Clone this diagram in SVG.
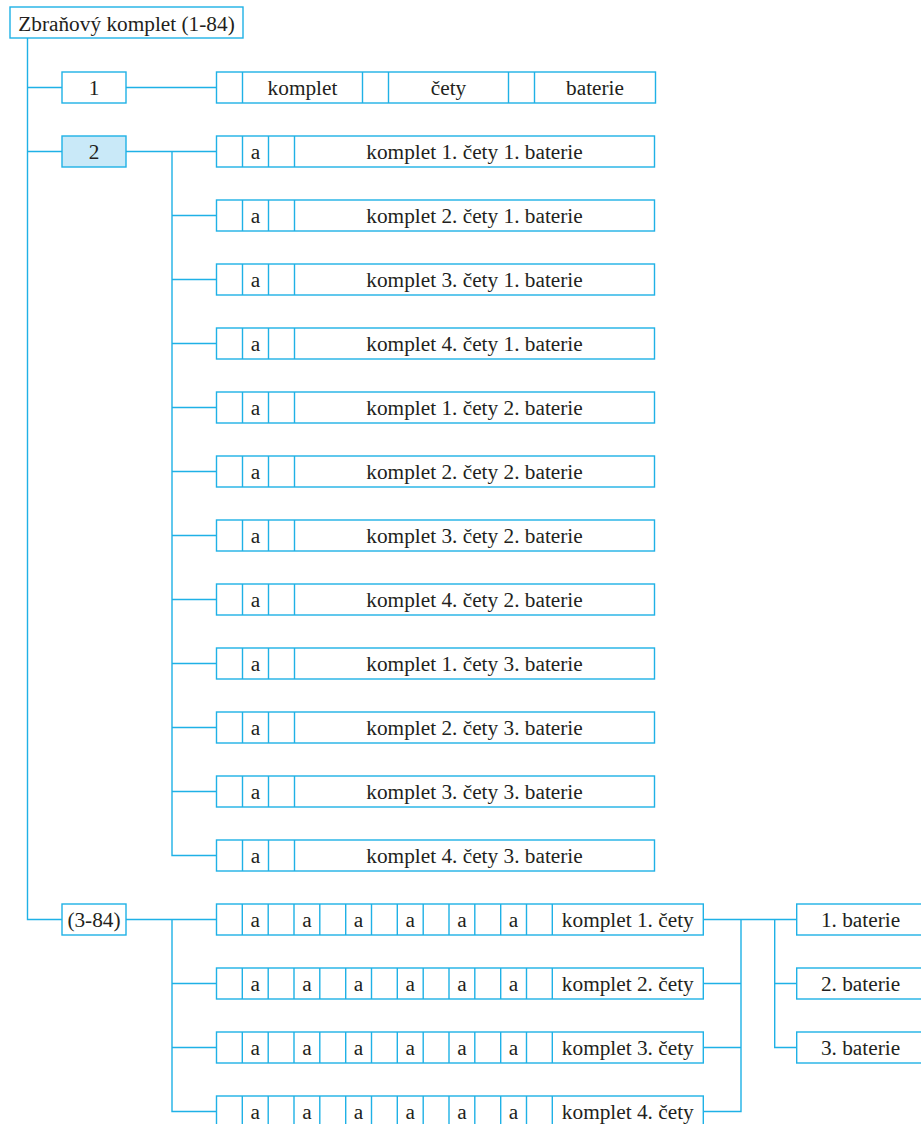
<svg xmlns="http://www.w3.org/2000/svg" xmlns:xlink="http://www.w3.org/1999/xlink" width="921" height="1124" viewBox="0 0 921 1124">
<style>
.b{fill:#fff;stroke:#1fb1e6;stroke-width:1.4}
.hl{fill:#c9e9f8}
.d{fill:none;stroke:#1fb1e6;stroke-width:1.4}
.c{fill:none;stroke:#1fb1e6;stroke-width:1.4;stroke-linejoin:miter}
.t{font-family:"Liberation Serif","Times New Roman",serif;font-size:21.3px;fill:#231f20;text-anchor:middle}
</style>
<defs>
<path id="div3" d="M242.5 0v31M268.5 0v31M294.5 0v31"/>
<path id="div13" d="M242.3 0v31M268.2 0v31M294 0v31M319.8 0v31M345.7 0v31M371.5 0v31M397.3 0v31M423.2 0v31M449 0v31M474.8 0v31M500.7 0v31M526.5 0v31M552.3 0v31"/>
</defs>
<rect width="921" height="1124" fill="#fff"/>
<g id="connectors" class="c">
<path d="M27.5 38V919.5H62M27.5 87.5H62M27.5 151.5H62"/>
<path d="M126 87.5H216.5"/>
<path d="M126 151.5H216.5M172 151.5V855.5H216.5M172 215.5H216.5M172 279.5H216.5M172 343.5H216.5M172 407.5H216.5M172 471.5H216.5M172 535.5H216.5M172 599.5H216.5M172 663.5H216.5M172 727.5H216.5M172 791.5H216.5"/>
<path d="M126 919.5H216.5M172 919.5V1111.5H216.5M172 983.5H216.5M172 1047.5H216.5"/>
<path d="M703.3 919.5H796.7M741 919.5V1111.5H703.3M703.3 983.5H741M703.3 1047.5H741M774.7 919.5V1047.5H796.7M774.7 983.5H796.7"/>
</g>
<g id="root"><rect class="b" x="10" y="7" width="233" height="31"/><text class="t" x="126.5" y="30.5">Zbraňový komplet (1-84)</text></g>
<g id="n1"><rect class="b" x="62" y="72" width="64" height="31"/><text class="t" x="94" y="95">1</text></g>
<g id="n2"><rect class="b hl" x="62" y="136" width="64" height="31"/><text class="t" x="94" y="159">2</text></g>
<g id="n3"><rect class="b" x="62" y="904" width="64" height="31"/><text class="t" x="94" y="927">(3-84)</text></g>
<g id="row1"><rect class="b" x="216.5" y="72" width="439" height="31"/><path class="d" d="M242.5 72v31M362.5 72v31M388.5 72v31M508.5 72v31M534.5 72v31"/><text class="t" x="302.5" y="95">komplet</text><text class="t" x="448.5" y="95">čety</text><text class="t" x="595" y="95">baterie</text></g>
<g id="r2-1"><rect class="b" x="216.5" y="136" width="438" height="31"/><use class="d" xlink:href="#div3" y="136"/><text class="t" x="255.5" y="159">a</text><text class="t" x="474.5" y="159">komplet 1. čety 1. baterie</text></g>
<g id="r2-2"><rect class="b" x="216.5" y="200" width="438" height="31"/><use class="d" xlink:href="#div3" y="200"/><text class="t" x="255.5" y="223">a</text><text class="t" x="474.5" y="223">komplet 2. čety 1. baterie</text></g>
<g id="r2-3"><rect class="b" x="216.5" y="264" width="438" height="31"/><use class="d" xlink:href="#div3" y="264"/><text class="t" x="255.5" y="287">a</text><text class="t" x="474.5" y="287">komplet 3. čety 1. baterie</text></g>
<g id="r2-4"><rect class="b" x="216.5" y="328" width="438" height="31"/><use class="d" xlink:href="#div3" y="328"/><text class="t" x="255.5" y="351">a</text><text class="t" x="474.5" y="351">komplet 4. čety 1. baterie</text></g>
<g id="r2-5"><rect class="b" x="216.5" y="392" width="438" height="31"/><use class="d" xlink:href="#div3" y="392"/><text class="t" x="255.5" y="415">a</text><text class="t" x="474.5" y="415">komplet 1. čety 2. baterie</text></g>
<g id="r2-6"><rect class="b" x="216.5" y="456" width="438" height="31"/><use class="d" xlink:href="#div3" y="456"/><text class="t" x="255.5" y="479">a</text><text class="t" x="474.5" y="479">komplet 2. čety 2. baterie</text></g>
<g id="r2-7"><rect class="b" x="216.5" y="520" width="438" height="31"/><use class="d" xlink:href="#div3" y="520"/><text class="t" x="255.5" y="543">a</text><text class="t" x="474.5" y="543">komplet 3. čety 2. baterie</text></g>
<g id="r2-8"><rect class="b" x="216.5" y="584" width="438" height="31"/><use class="d" xlink:href="#div3" y="584"/><text class="t" x="255.5" y="607">a</text><text class="t" x="474.5" y="607">komplet 4. čety 2. baterie</text></g>
<g id="r2-9"><rect class="b" x="216.5" y="648" width="438" height="31"/><use class="d" xlink:href="#div3" y="648"/><text class="t" x="255.5" y="671">a</text><text class="t" x="474.5" y="671">komplet 1. čety 3. baterie</text></g>
<g id="r2-10"><rect class="b" x="216.5" y="712" width="438" height="31"/><use class="d" xlink:href="#div3" y="712"/><text class="t" x="255.5" y="735">a</text><text class="t" x="474.5" y="735">komplet 2. čety 3. baterie</text></g>
<g id="r2-11"><rect class="b" x="216.5" y="776" width="438" height="31"/><use class="d" xlink:href="#div3" y="776"/><text class="t" x="255.5" y="799">a</text><text class="t" x="474.5" y="799">komplet 3. čety 3. baterie</text></g>
<g id="r2-12"><rect class="b" x="216.5" y="840" width="438" height="31"/><use class="d" xlink:href="#div3" y="840"/><text class="t" x="255.5" y="863">a</text><text class="t" x="474.5" y="863">komplet 4. čety 3. baterie</text></g>
<g id="r3-1"><rect class="b" x="216.5" y="904" width="486.8" height="31"/><use class="d" xlink:href="#div13" y="904"/><text class="t" x="255.3" y="927">a</text><text class="t" x="306.9" y="927">a</text><text class="t" x="358.6" y="927">a</text><text class="t" x="410.3" y="927">a</text><text class="t" x="461.9" y="927">a</text><text class="t" x="513.6" y="927">a</text><text class="t" x="627.8" y="927">komplet 1. čety</text></g>
<g id="r3-2"><rect class="b" x="216.5" y="968" width="486.8" height="31"/><use class="d" xlink:href="#div13" y="968"/><text class="t" x="255.3" y="991">a</text><text class="t" x="306.9" y="991">a</text><text class="t" x="358.6" y="991">a</text><text class="t" x="410.3" y="991">a</text><text class="t" x="461.9" y="991">a</text><text class="t" x="513.6" y="991">a</text><text class="t" x="627.8" y="991">komplet 2. čety</text></g>
<g id="r3-3"><rect class="b" x="216.5" y="1032" width="486.8" height="31"/><use class="d" xlink:href="#div13" y="1032"/><text class="t" x="255.3" y="1055">a</text><text class="t" x="306.9" y="1055">a</text><text class="t" x="358.6" y="1055">a</text><text class="t" x="410.3" y="1055">a</text><text class="t" x="461.9" y="1055">a</text><text class="t" x="513.6" y="1055">a</text><text class="t" x="627.8" y="1055">komplet 3. čety</text></g>
<g id="r3-4"><rect class="b" x="216.5" y="1096" width="486.8" height="31"/><use class="d" xlink:href="#div13" y="1096"/><text class="t" x="255.3" y="1119">a</text><text class="t" x="306.9" y="1119">a</text><text class="t" x="358.6" y="1119">a</text><text class="t" x="410.3" y="1119">a</text><text class="t" x="461.9" y="1119">a</text><text class="t" x="513.6" y="1119">a</text><text class="t" x="627.8" y="1119">komplet 4. čety</text></g>
<g id="bat1"><rect class="b" x="796.7" y="904" width="130" height="31"/><text class="t" x="860.5" y="927">1. baterie</text></g>
<g id="bat2"><rect class="b" x="796.7" y="968" width="130" height="31"/><text class="t" x="860.5" y="991">2. baterie</text></g>
<g id="bat3"><rect class="b" x="796.7" y="1032" width="130" height="31"/><text class="t" x="860.5" y="1055">3. baterie</text></g>
</svg>
